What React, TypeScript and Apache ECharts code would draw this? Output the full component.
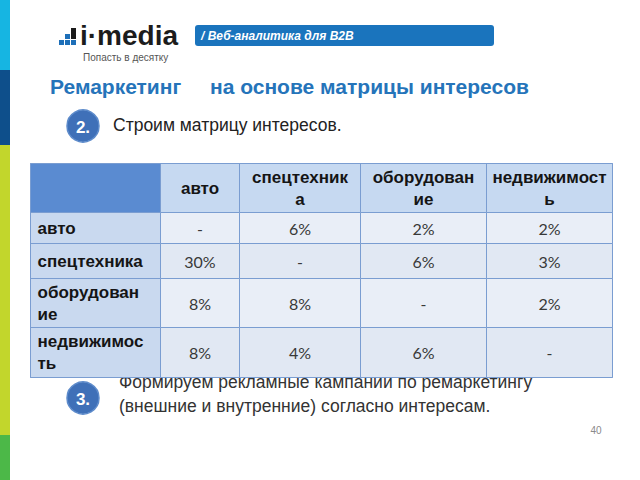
import React, { useEffect, useRef } from 'react';
import * as echarts from 'echarts';

// ---- data ----
const columnCategories = ['авто', 'спецтехника', 'оборудование', 'недвижимость'];
const rowCategories = ['авто', 'спецтехника', 'оборудование', 'недвижимость'];
const avtoRow: (number | null)[] = [null, 6, 2, 2];
const spetstekhnikaRow: (number | null)[] = [30, null, 6, 3];
const oborudovanieRow: (number | null)[] = [8, 8, null, 2];
const nedvizhimostRow: (number | null)[] = [8, 4, 6, null];
const matrixRows = [avtoRow, spetstekhnikaRow, oborudovanieRow, nedvizhimostRow];

// ---- layout (not data) ----
const COL_W = [79, 121, 126, 126];
const ROW_H = [31, 35, 49, 50];
const COL_HEAD_BREAK = [0, 10, 10, 11]; // characters on first line where the cell wraps
const ROW_HEAD_BREAK = [0, 0, 10, 10];
const BORDER = '#7a9dd1';

const fmt = (v: number | null) => (v === null ? '-' : `${v}%`);
const wrap = (s: string, n: number) => (n && s.length > n ? s.slice(0, n) + '\n' + s.slice(n) : s);

export default function App() {
  const ref = useRef<HTMLDivElement>(null);
  useEffect(() => {
    if (!ref.current) return;
    const chart = echarts.init(ref.current, undefined, { renderer: 'svg' });

    const xLabels = columnCategories.map((c, i) => wrap(c, COL_HEAD_BREAK[i]));
    const yLabels = rowCategories.map((c, i) => wrap(c, ROW_HEAD_BREAK[i]));

    const bodyData: any[] = [];
    matrixRows.forEach((row, r) => {
      row.forEach((v, c) => {
        bodyData.push({
          coord: [xLabels[c], yLabels[r]],
          value: fmt(v),
          itemStyle: { color: r % 2 === 0 ? '#e9eef7' : '#e1e8f3' },
        });
      });
    });

    const sans = '"Liberation Sans", Arial, sans-serif';
    const headLabel = { fontFamily: sans, fontWeight: 'bold', fontSize: 17, color: '#151515', overflow: 'none', lineHeight: 22 };

    chart.setOption({
      animation: false,
      backgroundColor: '#ffffff',
      matrix: {
        left: 30,
        top: 163,
        width: 582,
        height: 214,
        z: 5,
        backgroundStyle: { borderColor: BORDER, borderWidth: 1, color: 'transparent' },
        x: {
          data: xLabels.map((c, i) => ({ value: c, size: COL_W[i] })),
          levelSize: 49,
          itemStyle: { color: '#c6d9f1', borderColor: BORDER, borderWidth: 1 },
          dividerLineStyle: { color: BORDER, width: 1 },
          label: headLabel,
        },
        y: {
          data: yLabels.map((c, i) => ({ value: c, size: ROW_H[i] })),
          levelSize: 130,
          itemStyle: { color: '#c9d9ef', borderColor: BORDER, borderWidth: 1 },
          dividerLineStyle: { color: BORDER, width: 1 },
          label: { ...headLabel, position: 'insideLeft', align: 'left', distance: 4 },
        },
        corner: {
          itemStyle: { color: '#5a8bd1', borderColor: BORDER, borderWidth: 1 },
        },
        body: {
          data: bodyData,
          itemStyle: { borderColor: BORDER, borderWidth: 1 },
          label: { fontFamily: 'Lato, "Open Sans", sans-serif', fontSize: 16, color: '#383838' },
        },
      },
      graphic: [
        // left strip
        { type: 'rect', shape: { x: 0, y: 0, width: 10, height: 70 }, style: { fill: '#16b5e2' } },
        { type: 'rect', shape: { x: 0, y: 70, width: 10, height: 75 }, style: { fill: '#0e4f8b' } },
        { type: 'rect', shape: { x: 0, y: 145, width: 10, height: 290 }, style: { fill: '#c2d62c' } },
        { type: 'rect', shape: { x: 0, y: 435, width: 10, height: 45 }, style: { fill: '#4cb848' } },
        // logo squares
        { type: 'rect', shape: { x: 59, y: 40, width: 5, height: 5 }, style: { fill: '#1d6fb8' } },
        { type: 'rect', shape: { x: 65, y: 40, width: 5, height: 5 }, style: { fill: '#1d6fb8' } },
        { type: 'rect', shape: { x: 71, y: 40, width: 5, height: 5 }, style: { fill: '#1d6fb8' } },
        { type: 'rect', shape: { x: 65, y: 34, width: 5, height: 5 }, style: { fill: '#1d6fb8' } },
        { type: 'rect', shape: { x: 71, y: 28, width: 5, height: 11 }, style: { fill: '#1a1a1a' } },
        {
          type: 'text', x: 80, y: 35,
          style: { text: 'i·media', font: 'bold 28px "Liberation Sans", Arial, sans-serif', fill: '#1c1c1c', textVerticalAlign: 'middle' },
        },
        {
          type: 'text', x: 83, y: 57,
          style: { text: 'Попасть в десятку', font: '10px "Liberation Sans", Arial, sans-serif', fill: '#555', textVerticalAlign: 'middle' },
        },
        // header bar
        { type: 'rect', shape: { x: 195, y: 25, width: 299, height: 21, r: 3 }, style: { fill: '#1a74bd' } },
        {
          type: 'text', x: 201, y: 36,
          style: { text: '/ Веб-аналитика для B2B', font: 'italic bold 12px "Liberation Sans", Arial, sans-serif', fill: '#ffffff', textVerticalAlign: 'middle' },
        },
        // title
        {
          type: 'text', x: 50, y: 86,
          style: { text: 'Ремаркетинг', font: 'bold 21px "Liberation Sans", Arial, sans-serif', fill: '#2574ba', textVerticalAlign: 'middle' },
        },
        {
          type: 'text', x: 210, y: 86,
          style: { text: 'на основе матрицы интересов', font: 'bold 21px "Liberation Sans", Arial, sans-serif', fill: '#2574ba', textVerticalAlign: 'middle' },
        },
        // step 2
        { type: 'circle', shape: { cx: 83, cy: 126, r: 16 }, style: { fill: '#3f70b8', stroke: '#5d8bcb', lineWidth: 1.5 } },
        {
          type: 'text', x: 83, y: 127,
          style: { text: '2.', font: 'bold 17px "Liberation Sans", Arial, sans-serif', fill: '#ffffff', textAlign: 'center', textVerticalAlign: 'middle' },
        },
        {
          type: 'text', x: 113, y: 125,
          style: { text: 'Строим матрицу интересов.', font: '17.5px "Liberation Sans", Arial, sans-serif', fill: '#222', textVerticalAlign: 'middle' },
        },
        // step 3
        { type: 'circle', shape: { cx: 83, cy: 398, r: 16 }, style: { fill: '#3f70b8', stroke: '#5d8bcb', lineWidth: 1.5 } },
        {
          type: 'text', x: 83, y: 399,
          style: { text: '3.', font: 'bold 17px "Liberation Sans", Arial, sans-serif', fill: '#ffffff', textAlign: 'center', textVerticalAlign: 'middle' },
        },
        {
          type: 'text', x: 119, y: 382, z: -1,
          style: { text: 'Формируем рекламные кампании по ремаркетингу', font: '17.5px "Liberation Sans", Arial, sans-serif', fill: '#333', textVerticalAlign: 'middle' },
        },
        {
          type: 'text', x: 119, y: 406,
          style: { text: '(внешние и внутренние) согласно интересам.', font: '17.5px "Liberation Sans", Arial, sans-serif', fill: '#333', textVerticalAlign: 'middle' },
        },
        // page number
        {
          type: 'text', x: 596, y: 430,
          style: { text: '40', font: '10px "Liberation Sans", Arial, sans-serif', fill: '#8a8a8a', textAlign: 'center', textVerticalAlign: 'middle' },
        },
      ],
    });
    return () => chart.dispose();
  }, []);
  return <div ref={ref} style={{ position: 'absolute', left: 0, top: 0, width: 640, height: 480 }} />;
}
